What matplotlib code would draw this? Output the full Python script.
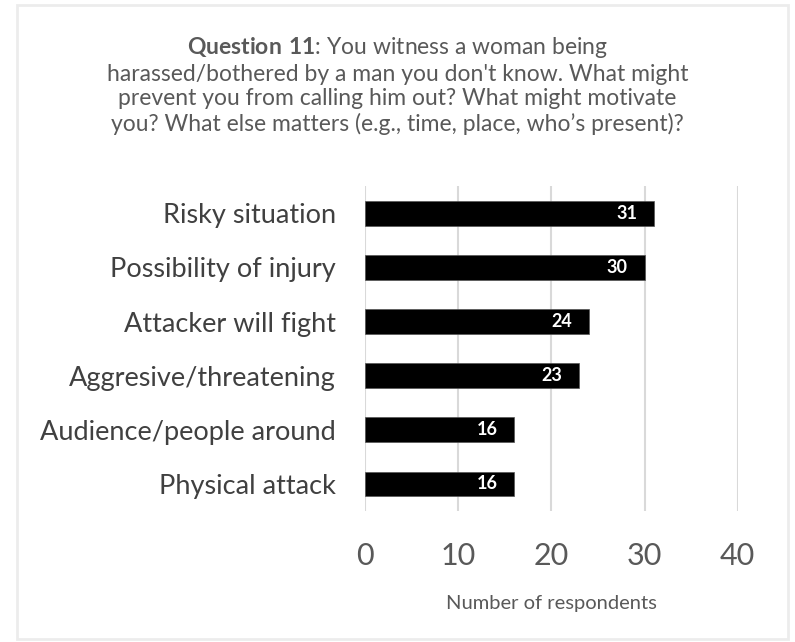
import matplotlib.pyplot as plt
from matplotlib.patches import Rectangle

# data (bottom to top)
categories = ['Physical attack', 'Audience/people around', 'Aggresive/threatening',
              'Attacker will fight', 'Possibility of injury', 'Risky situation']
counts = [16, 16, 23, 24, 30, 31]
xticks = [0, 10, 20, 30, 40]

plt.rcParams['font.family'] = ['Lato', 'DejaVu Sans']
plt.rcParams['mathtext.fontset'] = 'custom'
plt.rcParams['mathtext.bf'] = 'Lato:bold'
plt.rcParams['mathtext.rm'] = 'Lato'

fig = plt.figure(figsize=(7.95, 6.42), dpi=100)
ax = fig.add_axes([0.459, 0.204, 0.469, 0.506])

# light frame round the whole chart
fig.patches.append(Rectangle((0.021, 0.004), 0.970, 0.988, transform=fig.transFigure,
                             fill=False, edgecolor='#ececec', linewidth=2))

ypos = range(len(categories))
ax.barh(ypos, counts, height=0.46, color='black', edgecolor='#555555', linewidth=0.5, zorder=3)

for y, v in zip(ypos, counts):
    ax.annotate(str(v), (v, y), xytext=(-12, 0), textcoords='offset points',
                ha='right', va='center', color='white', fontsize=13, fontweight='bold', zorder=4)

ax.set_xlim(0, 40)
ax.set_ylim(-0.5, 5.5)
ax.set_xticks(xticks)
ax.set_xticklabels([str(t) for t in xticks], fontsize=22, color='#595959')
ax.set_yticks(list(ypos))
ax.set_yticklabels(categories, fontsize=19.5, color='#404040')
ax.tick_params(axis='x', length=0, pad=22)
ax.tick_params(axis='y', length=0, pad=21)
ax.grid(axis='x', color='#d9d9d9', linewidth=1.5, zorder=0)
for s in ax.spines.values():
    s.set_visible(False)

ax.set_xlabel('Number of respondents', fontsize=14.5, color='#595959', labelpad=18)

fig.text(0.5, 0.945, r"$\bf{Question\ 11}$: You witness a woman being" + "\n"
         "harassed/bothered by a man you don't know. What might\n"
         "prevent you from calling him out? What might motivate\n"
         "you? What else matters (e.g., time, place, who\u2019s present)?",
         ha='center', va='top', fontsize=16.5, color='#595959', linespacing=1.2)

plt.savefig('out.png', dpi=100)
